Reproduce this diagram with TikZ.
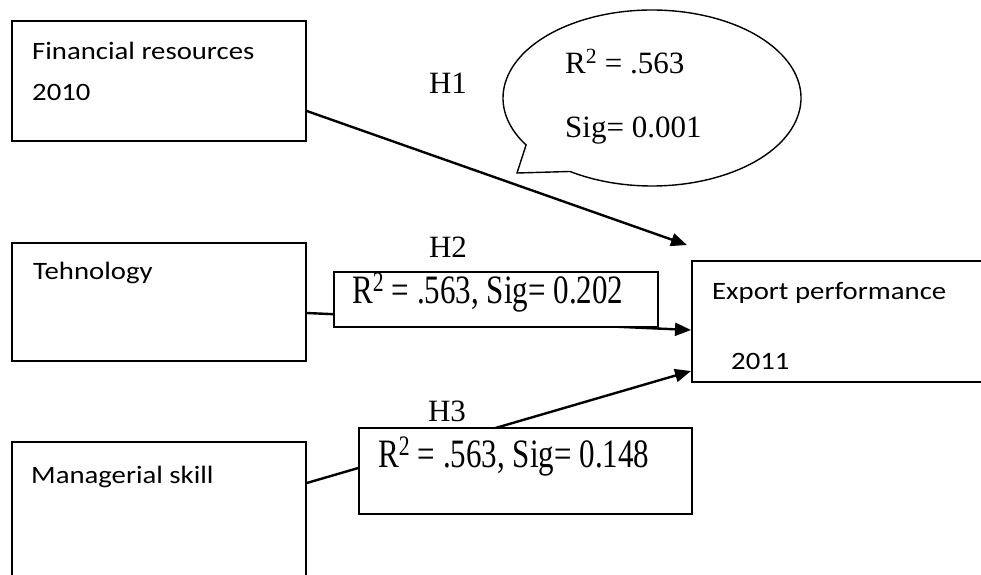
\documentclass[tikz,border=0pt]{standalone}
\usepackage{graphicx}
\usepackage{fontspec}
\setmainfont{Liberation Serif}
\newfontfamily\labelsans{Carlito}[FakeStretch=1.15]
\usetikzlibrary{arrows.meta,calc}
\pgfdeclarelayer{back}
\pgfsetlayers{back,main}

\tikzset{
  varbox/.style={draw, line width=1.8pt, fill=white, anchor=north west, inner sep=0pt},
  sanslabel/.style={anchor=base west, inner sep=0pt, font=\labelsans\fontsize{25}{30}\selectfont},
  serlabel/.style={anchor=base west, inner sep=0pt, font=\fontsize{31}{36}\selectfont},
  hyp/.style={anchor=base, inner sep=0pt, font=\fontsize{31}{36}\selectfont},
  link/.style={line width=2.4pt, -{Triangle[length=16pt,width=13pt]}},
  bubbleline/.style={line width=1.4pt, fill=white}
}

\begin{document}
\begin{tikzpicture}[x=1pt, y=-1pt]
  \useasboundingbox (0,0) rectangle (981,574);
  \clip (0,0) rectangle (981,574);

  % predictor and outcome boxes
  \node[varbox, minimum width=294pt, minimum height=120pt] (fin) at (11,20) {};
  \node[varbox, minimum width=294pt, minimum height=118pt] (tech) at (11,242) {};
  \node[varbox, minimum width=294pt, minimum height=160pt] (man) at (11,441) {};
  \node[varbox, minimum width=320pt, minimum height=121pt] (exp) at (691,260) {};

  \node[sanslabel] (fin-a) at (32,59) {Financial resources};
  \node[sanslabel] (fin-b) at (32,100) {2010};
  \node[sanslabel] (tech-a) at (33,279) {Tehnology};
  \node[sanslabel] (man-a) at (31,483) {Managerial skill};
  \node[sanslabel] (exp-a) at (712,299) {Export performance};
  \node[sanslabel] (exp-b) at (731,369) {2011};

  % paths from the predictors to export performance
  \begin{pgfonlayer}{back}
    \fill[white] (0,0) rectangle (981,574);
    \draw[link] ($(fin.north east)+(0,91)$) -- ($(exp.north west)+(-4,-15)$);
    \draw[link] ($(tech.north east)+(0,71)$) -- ($(exp.north west)+(0,70)$);
    \draw[link] ($(man.north east)+(0,42)$) -- ($(exp.north west)+(0,111)$);
  \end{pgfonlayer}

  % hypothesis labels
  \node[hyp] (h1) at (448,93) {H1};
  \node[hyp] (h2) at (448,257) {H2};
  \node[hyp] (h3) at (447,421) {H3};

  % result boxes on the paths
  \node[varbox, line width=1.6pt, minimum width=324pt, minimum height=55pt] (res2) at (333,271) {};
  \node[varbox, line width=1.6pt, minimum width=333pt, minimum height=86pt] (res3) at (358,427) {};
  \node[serlabel] (res2-t) at (352,303) {\scalebox{1}[1.3]{R\textsuperscript{2} = .563, Sig= 0.202}};
  \node[serlabel] (res3-t) at (378,467) {\scalebox{1}[1.3]{R\textsuperscript{2} = .563, Sig= 0.148}};

  % speech bubble for H1
  \coordinate (bubble) at (652,98);
  \coordinate (bubbletip) at (517,173);
  \draw[bubbleline] (bubbletip) -- ($(bubble)+(147.7:149 and 88)$)
    arc[start angle=147.7, end angle=483.4, x radius=149, y radius=88] -- cycle;
  \node[serlabel] (bub-a) at (565,73) {R\textsuperscript{2} = .563};
  \node[serlabel] (bub-b) at (565,137) {Sig= 0.001};
\end{tikzpicture}
\end{document}
